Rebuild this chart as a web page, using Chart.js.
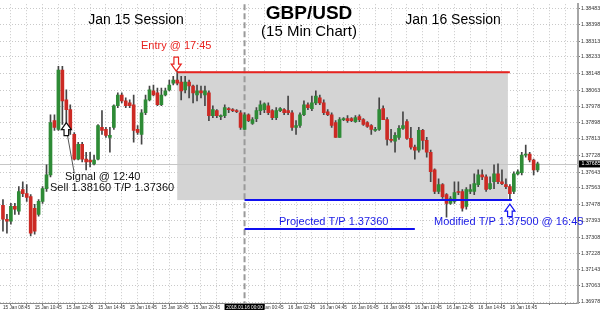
<!DOCTYPE html>
<html><head><meta charset="utf-8">
<script src="https://cdn.jsdelivr.net/npm/chart.js@4.4.0/dist/chart.umd.min.js"></script>
<style>html,body{margin:0;padding:0;background:#fff}#wrap{width:600px;height:310px;position:relative}</style>
</head><body><div id="wrap"><canvas id="c"></canvas></div>
<script>
// GBP/USD 15-minute candles, 15 Jan 08:45 onward (one entry per bar)
const opens = [1.37473,1.37402,1.37392,1.37468,1.37443,1.37554,1.37533,1.37518,1.37458,1.37427,1.37493,1.37559,1.37629,1.37907,1.37862,1.38165,1.38013,1.37963,1.37836,1.37710,1.37786,1.37710,1.37705,1.37685,1.37710,1.37872,1.37862,1.37821,1.37872,1.37983,1.38038,1.38008,1.37998,1.37988,1.37862,1.37836,1.37947,1.38013,1.38059,1.38049,1.37988,1.38038,1.38064,1.38099,1.38114,1.38104,1.38064,1.38104,1.38084,1.38038,1.38059,1.38038,1.38049,1.37932,1.37958,1.37927,1.37932,1.37968,1.37963,1.37958,1.37947,1.37862,1.37937,1.37892,1.37917,1.37958,1.37963,1.37983,1.37958,1.37922,1.37958,1.37963,1.37958,1.37947,1.37872,1.37882,1.37937,1.37988,1.37968,1.37998,1.38023,1.37998,1.37952,1.37937,1.37897,1.37821,1.37912,1.37917,1.37917,1.37902,1.37927,1.37912,1.37897,1.37882,1.37857,1.37862,1.37968,1.37912,1.37811,1.37801,1.37821,1.37867,1.37902,1.37816,1.37771,1.37756,1.37857,1.37806,1.37745,1.37655,1.37544,1.37579,1.37528,1.37483,1.37493,1.37544,1.37544,1.37468,1.37544,1.37544,1.37579,1.37629,1.37619,1.37559,1.37594,1.37634,1.37594,1.37579,1.37569,1.37544,1.37634,1.37640,1.37730,1.37735,1.37705,1.37655];
const highs = [1.37503,1.37427,1.37483,1.37483,1.37569,1.37594,1.37579,1.37528,1.37478,1.37503,1.37569,1.37680,1.37937,1.37937,1.38185,1.38185,1.38064,1.37988,1.37846,1.37796,1.37796,1.37745,1.37745,1.37730,1.37887,1.37958,1.37872,1.37872,1.37988,1.38049,1.38049,1.38023,1.38013,1.38038,1.37882,1.37963,1.38038,1.38084,1.38089,1.38074,1.38074,1.38074,1.38114,1.38134,1.38160,1.38134,1.38134,1.38114,1.38089,1.38089,1.38084,1.38084,1.38059,1.37983,1.37963,1.37937,1.37988,1.37973,1.37968,1.37963,1.37958,1.37947,1.37942,1.37922,1.37973,1.38008,1.37998,1.37998,1.37963,1.37973,1.37973,1.37968,1.38033,1.37958,1.37907,1.37947,1.38008,1.37998,1.38033,1.38059,1.38038,1.38013,1.37963,1.37947,1.37907,1.37922,1.37922,1.37932,1.37922,1.37932,1.37937,1.37917,1.37902,1.37887,1.37872,1.38023,1.37983,1.37922,1.37862,1.37846,1.37882,1.37952,1.37912,1.37872,1.37781,1.37872,1.37862,1.37821,1.37756,1.37660,1.37609,1.37584,1.37533,1.37518,1.37594,1.37594,1.37554,1.37564,1.37579,1.37634,1.37655,1.37655,1.37629,1.37619,1.37680,1.37685,1.37655,1.37609,1.37579,1.37645,1.37655,1.37745,1.37781,1.37745,1.37710,1.37695];
const lows = [1.37341,1.37331,1.37377,1.37427,1.37427,1.37518,1.37493,1.37316,1.37326,1.37417,1.37483,1.37544,1.37619,1.37857,1.37857,1.37887,1.37872,1.37836,1.37705,1.37705,1.37695,1.37655,1.37670,1.37680,1.37705,1.37836,1.37821,1.37745,1.37862,1.37973,1.37998,1.37973,1.37973,1.37796,1.37836,1.37786,1.37937,1.38008,1.38033,1.37983,1.37983,1.38033,1.38059,1.38089,1.38089,1.38013,1.38049,1.38023,1.37998,1.38008,1.38023,1.37983,1.37907,1.37922,1.37922,1.37912,1.37922,1.37947,1.37952,1.37947,1.37862,1.37862,1.37902,1.37887,1.37902,1.37937,1.37947,1.37937,1.37912,1.37912,1.37952,1.37937,1.37937,1.37857,1.37836,1.37872,1.37932,1.37963,1.37958,1.37988,1.37988,1.37937,1.37932,1.37872,1.37821,1.37821,1.37907,1.37897,1.37902,1.37897,1.37902,1.37882,1.37872,1.37836,1.37852,1.37857,1.37912,1.37781,1.37796,1.37745,1.37811,1.37862,1.37811,1.37761,1.37710,1.37745,1.37761,1.37720,1.37594,1.37533,1.37533,1.37508,1.37412,1.37478,1.37483,1.37528,1.37443,1.37453,1.37533,1.37528,1.37569,1.37604,1.37544,1.37554,1.37559,1.37584,1.37579,1.37559,1.37503,1.37533,1.37629,1.37629,1.37720,1.37695,1.37629,1.37645];
const closes = [1.37402,1.37392,1.37468,1.37453,1.37544,1.37533,1.37513,1.37331,1.37341,1.37493,1.37559,1.37629,1.37897,1.37872,1.38165,1.38008,1.37963,1.37862,1.37710,1.37786,1.37710,1.37695,1.37695,1.37705,1.37882,1.37857,1.37831,1.37831,1.37983,1.38038,1.38008,1.37983,1.37983,1.37857,1.37846,1.37947,1.38013,1.38064,1.38038,1.37988,1.38038,1.38059,1.38089,1.38114,1.38099,1.38059,1.38104,1.38084,1.38049,1.38059,1.38049,1.38059,1.37932,1.37963,1.37932,1.37932,1.37973,1.37963,1.37958,1.37952,1.37872,1.37937,1.37907,1.37912,1.37958,1.37988,1.37993,1.37947,1.37922,1.37958,1.37968,1.37947,1.37947,1.37872,1.37882,1.37937,1.37988,1.37973,1.37998,1.38033,1.37998,1.37947,1.37937,1.37882,1.37821,1.37912,1.37917,1.37907,1.37907,1.37922,1.37912,1.37887,1.37877,1.37862,1.37862,1.37963,1.37912,1.37811,1.37806,1.37831,1.37867,1.37882,1.37816,1.37771,1.37756,1.37857,1.37806,1.37745,1.37645,1.37544,1.37579,1.37518,1.37483,1.37508,1.37539,1.37539,1.37458,1.37554,1.37554,1.37584,1.37629,1.37619,1.37554,1.37584,1.37634,1.37594,1.37584,1.37569,1.37533,1.37634,1.37645,1.37730,1.37735,1.37705,1.37655,1.37685];

// axis labels
const xTickLabels = ['15 Jan 08:45','15 Jan 10:45','15 Jan 12:45','15 Jan 14:45','15 Jan 16:45','15 Jan 18:45','15 Jan 20:45','15 Jan 22:45','16 Jan 00:45','16 Jan 02:45','16 Jan 04:45','16 Jan 06:45','16 Jan 08:45','16 Jan 10:45','16 Jan 12:45','16 Jan 14:45','16 Jan 16:45'];
const yTickValues = [1.38483,1.38398,1.38313,1.38233,1.38148,1.38063,1.37978,1.37898,1.37813,1.37728,1.37643,1.37563,1.37478,1.37393,1.37308,1.37228,1.37143,1.37063,1.36978];

// trade annotations
const entryPrice = 1.38160, modifiedTP = 1.37500, projectedTP = 1.37360, bidPrice = 1.37685;
const entryBar = 44, tpBar = 128, sessionBar = 61, projectedEndBar = 104, signalBar = 16, signalArrowPrice = 1.37897;
const sessionStamp = '2018.01.16 00:00';

const GREEN = '#2e8b36', RED = '#cc2a24', WICK = '#454545';
const FONT = '"Liberation Sans", Arial, sans-serif';

function arrow(ctx, cx, tipY, dir, color, h){
  const hh=7, hw=5, sw=2.3;
  ctx.beginPath();
  ctx.moveTo(cx, tipY);
  ctx.lineTo(cx+hw, tipY+dir*hh);
  ctx.lineTo(cx+sw, tipY+dir*hh);
  ctx.lineTo(cx+sw, tipY+dir*h);
  ctx.lineTo(cx-sw, tipY+dir*h);
  ctx.lineTo(cx-sw, tipY+dir*hh);
  ctx.lineTo(cx-hw, tipY+dir*hh);
  ctx.closePath();
  ctx.fillStyle='#fff'; ctx.fill();
  ctx.strokeStyle=color; ctx.lineWidth=1.2; ctx.stroke();
}
function hline(ctx,x1,x2,y){ctx.beginPath();ctx.moveTo(x1,y);ctx.lineTo(x2,y);ctx.stroke();}

const annot = {
  id:'annot',
  beforeDatasetsDraw(chart){
    const {ctx, chartArea:a, scales:{x,y}} = chart;
    ctx.save();
    const bx1=x.getPixelForValue(entryBar), bx2=x.getPixelForValue(tpBar-0.5);
    const by1=y.getPixelForValue(entryPrice), by2=y.getPixelForValue(modifiedTP);
    ctx.fillStyle='#d4d4d4';
    ctx.fillRect(bx1,by1,bx2-bx1,by2-by1);
    ctx.strokeStyle='#c6c6c6'; ctx.lineWidth=1;
    hline(ctx,a.left,a.right,Math.round(y.getPixelForValue(bidPrice))+0.5);
    const xs=x.getPixelForValue(sessionBar);
    ctx.setLineDash([6,3]); ctx.strokeStyle='#9a9a9a'; ctx.lineWidth=2;
    ctx.beginPath(); ctx.moveTo(xs,a.top); ctx.lineTo(xs,a.bottom); ctx.stroke();
    ctx.restore();
  },
  afterDatasetsDraw(chart){
    const {ctx, chartArea:a, scales:{x,y}} = chart;
    ctx.save();
    ctx.strokeStyle='#e8231f'; ctx.lineWidth=2;
    hline(ctx,x.getPixelForValue(entryBar),x.getPixelForValue(tpBar),y.getPixelForValue(entryPrice)+1);
    ctx.strokeStyle='#1010f0';
    hline(ctx,x.getPixelForValue(sessionBar),x.getPixelForValue(tpBar+0.5),y.getPixelForValue(modifiedTP));
    hline(ctx,x.getPixelForValue(sessionBar),x.getPixelForValue(projectedEndBar),y.getPixelForValue(projectedTP)+1.5);
    arrow(ctx,x.getPixelForValue(entryBar)-1,y.getPixelForValue(entryPrice),-1,'#e8231f',14);
    arrow(ctx,x.getPixelForValue(tpBar),y.getPixelForValue(modifiedTP)+4,1,'#1010f0',12.5);
    const sx=x.getPixelForValue(signalBar), sy=y.getPixelForValue(signalArrowPrice);
    ctx.strokeStyle='#555'; ctx.lineWidth=1;
    ctx.beginPath(); ctx.moveTo(sx+1,sy+12); ctx.lineTo(sx+8,sy+51); ctx.stroke();
    arrow(ctx,sx,sy,1,'#111',13);
    ctx.textBaseline='middle'; ctx.textAlign='center';
    ctx.fillStyle='#000';
    ctx.font='14px '+FONT;
    ctx.fillText('Jan 15 Session',136,20);
    ctx.fillText('Jan 16 Session',453,20);
    ctx.font='bold 19px '+FONT;
    ctx.fillText('GBP/USD',309,14);
    ctx.font='15px '+FONT;
    ctx.fillText('(15 Min Chart)',309,32);
    ctx.font='11px '+FONT;
    ctx.fillStyle='#e8231f';
    ctx.fillText('Entry @ 17:45',x.getPixelForValue(entryBar)-1,46);
    ctx.textAlign='left'; ctx.fillStyle='#111';
    ctx.fillText('Signal @ 12:40',65,177);
    ctx.fillText('Sell 1.38160 T/P 1.37360',50,188);
    ctx.fillStyle='#1a1ae6';
    ctx.fillText('Projected T/P 1.37360',279,221.5);
    ctx.fillText('Modified T/P 1.37500 @ 16:45',434,222);
    ctx.restore();
  },
  afterDraw(chart){
    const {ctx, chartArea:a, scales:{x,y}} = chart;
    ctx.save();
    ctx.font='4.7px '+FONT; ctx.textBaseline='middle';
    const xs=x.getPixelForValue(sessionBar);
    ctx.fillStyle='#000'; ctx.fillRect(xs-20,a.bottom+1,40,7);
    ctx.fillStyle='#fff'; ctx.textAlign='center'; ctx.fillText(sessionStamp,xs,a.bottom+4.5);
    ctx.font='5.3px '+FONT;
    const yb=y.getPixelForValue(bidPrice);
    ctx.fillStyle='#000'; ctx.fillRect(a.right+1,yb-3.5,21,7);
    ctx.fillStyle='#fff'; ctx.textAlign='left'; ctx.fillText(bidPrice.toFixed(5),a.right+3.5,yb);
    ctx.restore();
  }
};

new Chart(document.getElementById('c'), {
  type:'bar',
  data:{datasets:[
    {label:'body', data:opens.map((o,i)=>({x:i,y:[o,closes[i]]})),
     backgroundColor:c=>closes[c.dataIndex]>=opens[c.dataIndex]?GREEN:RED,
     barThickness:3, minBarLength:1, grouped:false, borderWidth:0},
    {label:'wick', data:lows.map((l,i)=>({x:i,y:[l,highs[i]]})),
     backgroundColor:WICK, barThickness:1, grouped:false, borderWidth:0}
  ]},
  options:{
    responsive:true, maintainAspectRatio:false, animation:false, events:[],
    layout:{padding:0},
    plugins:{legend:{display:false}, tooltip:{enabled:false}},
    scales:{
      x:{type:'linear', min:-0.75, max:145.2, offset:false,
        afterBuildTicks(s){ const t=[]; for(let v=0; v<=144; v+=4) t.push({value:v}); s.ticks=t; },
        afterFit(s){ s.height=7; },
        ticks:{autoSkip:false, maxRotation:0, minRotation:0, align:'start', padding:0,
          font:{size:4.7, family:FONT}, color:'#333',
          callback:v=> v%8===0 ? (xTickLabels[v/8]||'') : ''},
        grid:{color:'#c9c9c9', tickLength:2, tickColor:'#777', drawTicks:true},
        border:{color:'#8a8a8a', width:1, dash:[1,2]}
      },
      y:{type:'linear', position:'right', min:1.36973, max:1.38503,
        afterBuildTicks(s){ s.ticks=yTickValues.map(v=>({value:v})); },
        afterFit(s){ s.width=22; },
        ticks:{autoSkip:false, padding:1, font:{size:5.3, family:FONT}, color:'#333',
          callback:v=>v.toFixed(5)},
        grid:{color:'#c9c9c9', tickLength:2, tickColor:'#777'},
        border:{color:'#a6a6a6', width:2, dash:[1,2]}
      }
    }
  },
  plugins:[annot]
});
</script></body></html>
